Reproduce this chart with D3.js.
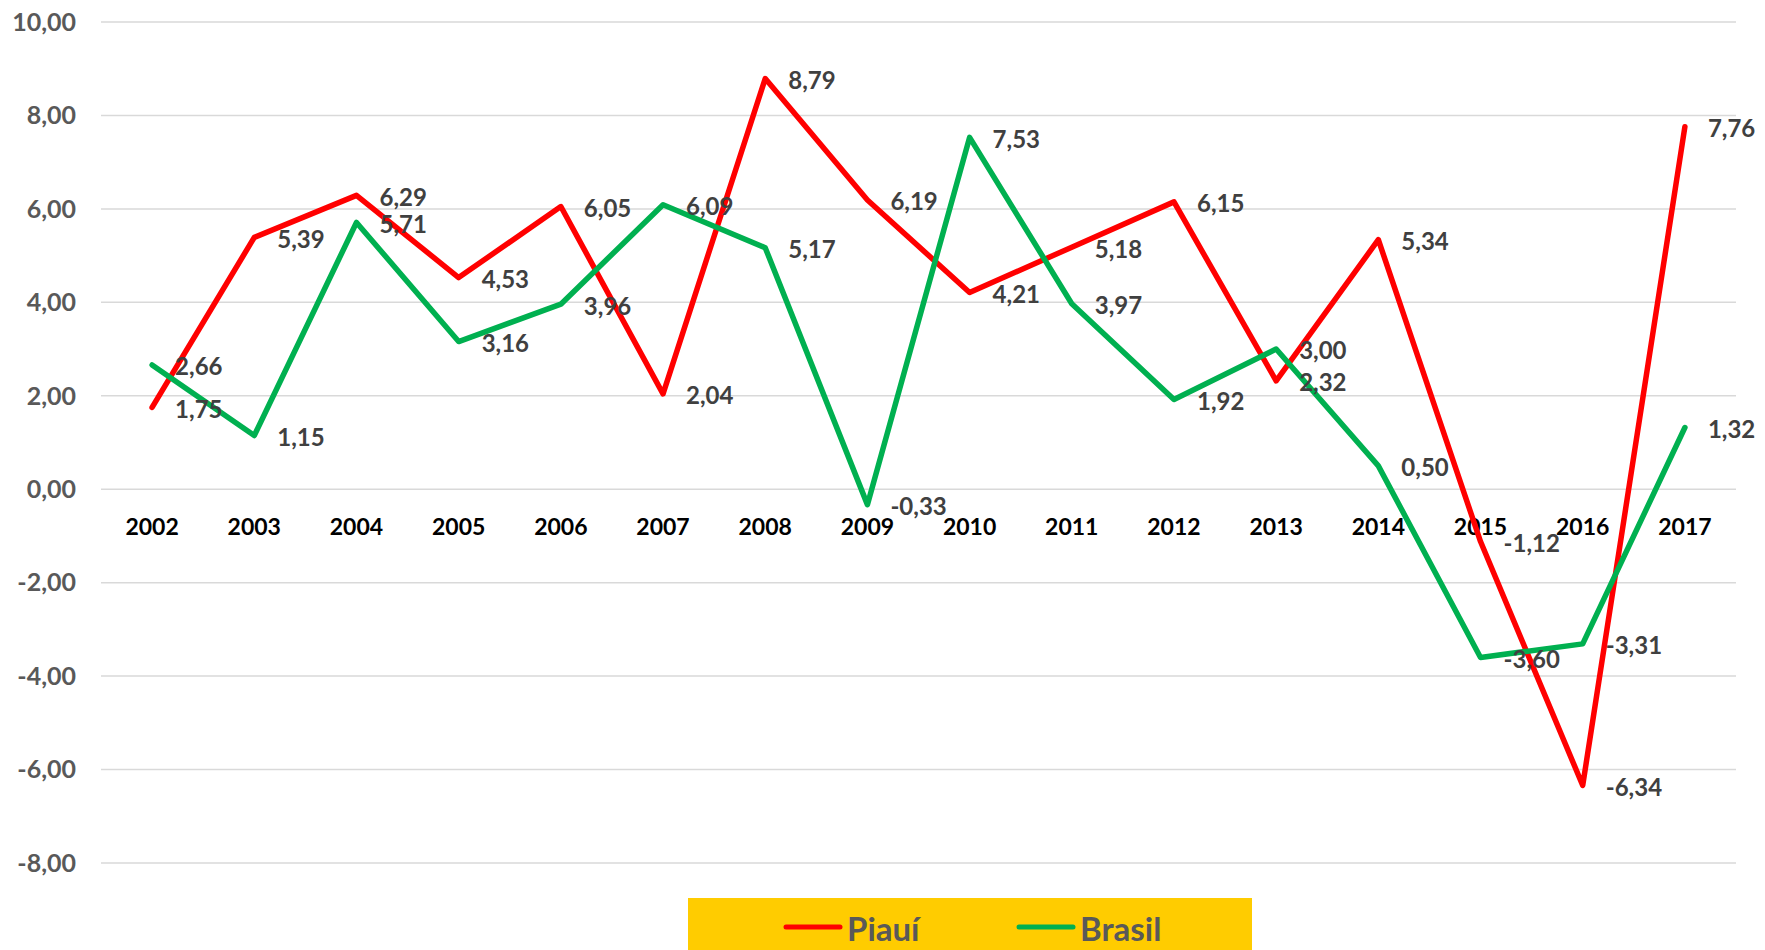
<!DOCTYPE html>
<html lang="pt-br">
<head>
<meta charset="utf-8">
<title>Piauí x Brasil</title>
<script src="https://cdn.jsdelivr.net/npm/d3@7"></script>
<style>
  body { margin: 0; background: #fff; }
  svg { display: block; font-family: Lato, "Liberation Sans", sans-serif; font-weight: bold; }
</style>
</head>
<body>
<script>
var width = 1765, height = 950;

// dados
var years = ["2002","2003","2004","2005","2006","2007","2008","2009","2010","2011","2012","2013","2014","2015","2016","2017"];
var piaui = [1.75, 5.39, 6.29, 4.53, 6.05, 2.04, 8.79, 6.19, 4.21, 5.18, 6.15, 2.32, 5.34, -1.12, -6.34, 7.76];
var brasil = [2.66, 1.15, 5.71, 3.16, 3.96, 6.09, 5.17, -0.33, 7.53, 3.97, 1.92, 3.00, 0.50, -3.60, -3.31, 1.32];
var yTicks = [10, 8, 6, 4, 2, 0, -2, -4, -6, -8];

var series = [
  {name: "Piauí", values: piaui, color: "#ff0000"},
  {name: "Brasil", values: brasil, color: "#00b050"}
];

var fmt = function(v) { return v.toFixed(2).replace(".", ","); };

var svg = d3.select("body").append("svg")
    .attr("width", width)
    .attr("height", height);

var x = d3.scalePoint().domain(years).range([101, 1736]).padding(0.5);
var y = d3.scaleLinear().domain([-8, 10]).range([863, 22]);

// grade
svg.append("g").selectAll("line")
  .data(yTicks).enter().append("line")
    .attr("x1", 101).attr("x2", 1736)
    .attr("y1", function(d) { return y(d); })
    .attr("y2", function(d) { return y(d); })
    .style("stroke", "#d9d9d9")
    .style("stroke-width", 1.5);

// rótulos eixo y
svg.append("g").selectAll("text")
  .data(yTicks).enter().append("text")
    .attr("x", 76)
    .attr("y", function(d) { return y(d); })
    .attr("dy", "0.35em")
    .attr("text-anchor", "end")
    .style("font-size", "25px")
    .style("fill", "#595959")
    .text(fmt);

// anos
svg.append("g").selectAll("text")
  .data(years).enter().append("text")
    .attr("x", function(d) { return x(d); })
    .attr("y", y(0) + 38)
    .attr("dy", "0.35em")
    .attr("text-anchor", "middle")
    .style("font-size", "23px")
    .style("fill", "#000")
    .text(function(d) { return d; });

var line = d3.line()
    .x(function(d, i) { return x(years[i]); })
    .y(function(d) { return y(d); });

svg.append("g").selectAll("path")
  .data(series).enter().append("path")
    .attr("d", function(s) { return line(s.values); })
    .style("fill", "none")
    .style("stroke", function(s) { return s.color; })
    .style("stroke-width", 5.5)
    .style("stroke-linejoin", "round")
    .style("stroke-linecap", "round");

// rótulos de dados
series.forEach(function(s) {
  svg.append("g").selectAll("text")
    .data(s.values).enter().append("text")
      .attr("x", function(d, i) { return x(years[i]) + 23; })
      .attr("y", function(d) { return y(d) + 2; })
      .attr("dy", "0.35em")
      .style("font-size", "24px")
      .style("fill", "#404040")
      .text(fmt);
});

// legenda
var leg = svg.append("g");
leg.append("rect")
    .attr("x", 688).attr("y", 898)
    .attr("width", 564).attr("height", 60)
    .style("fill", "#ffcc00");

var legX = [786, 1019];
series.forEach(function(s, i) {
  leg.append("line")
    .attr("x1", legX[i]).attr("x2", legX[i] + 54)
    .attr("y1", 927).attr("y2", 927)
    .style("stroke", s.color)
    .style("stroke-width", 5)
    .style("stroke-linecap", "round");
  leg.append("text")
    .attr("x", legX[i] + 61)
    .attr("y", 929)
    .attr("dy", "0.35em")
    .style("font-size", "33px")
    .style("fill", "#595959")
    .text(s.name);
});
</script>
</body>
</html>
